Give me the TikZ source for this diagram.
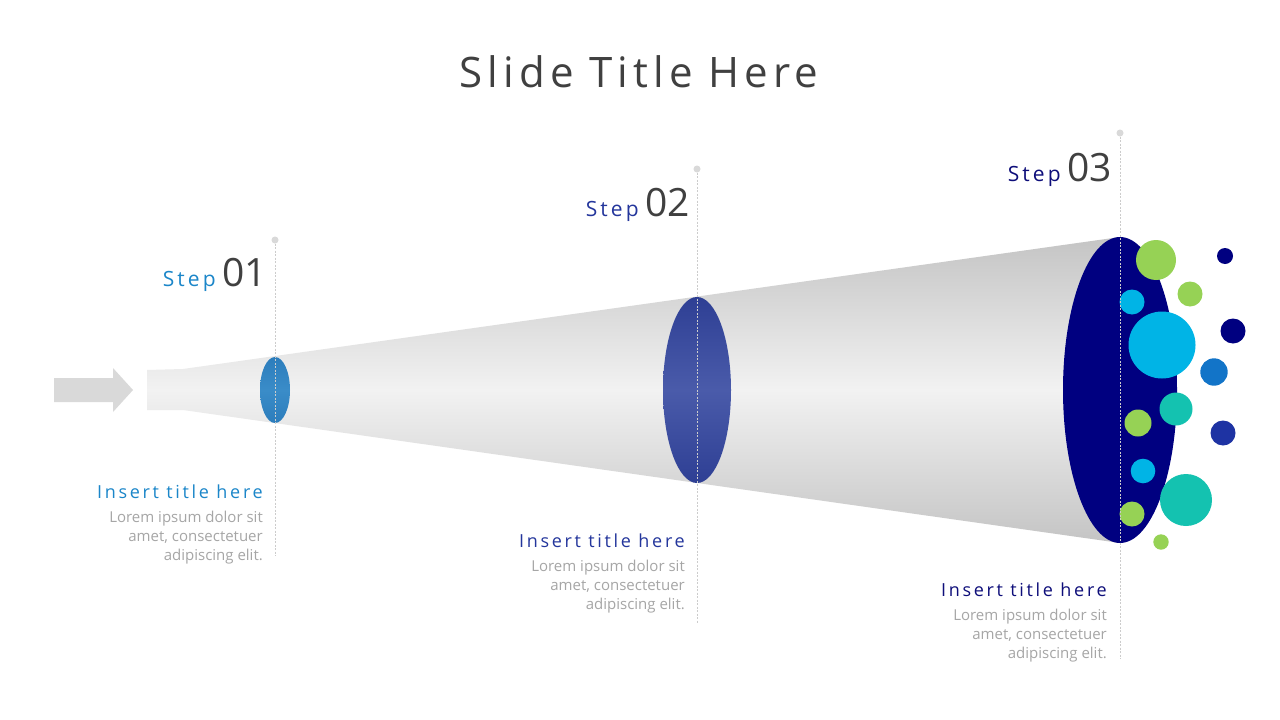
\documentclass[tikz,border=0pt]{standalone}
\usepackage{fontspec}
\setmainfont{Open Sans}
\newfontfamily\spacedfont{Open Sans}[LetterSpace=15]
\newfontfamily\titlefont{Open Sans}[LetterSpace=12]
\usetikzlibrary{positioning,calc}

\definecolor{titlegray}{HTML}{404040}
\definecolor{bodygray}{HTML}{A6A6A6}
\definecolor{stepone}{HTML}{1B86C9}
\definecolor{steptwo}{HTML}{24369C}
\definecolor{stepthree}{HTML}{0E0E7A}
\definecolor{arrowgray}{HTML}{D9D9D9}
\definecolor{funneldark}{HTML}{C4C4C4}
\definecolor{funnellight}{HTML}{F2F2F2}
\definecolor{lensone}{HTML}{3A8CC8}
\definecolor{lensoneedge}{HTML}{2C7DBC}
\definecolor{lenstwo}{HTML}{4A5BAA}
\definecolor{lenstwoedge}{HTML}{2E3F94}
\definecolor{lensthree}{HTML}{000080}
\definecolor{bgreen}{HTML}{96D255}
\definecolor{bcyan}{HTML}{00B4E6}
\definecolor{bteal}{HTML}{14C2B0}
\definecolor{bnavy}{HTML}{000080}
\definecolor{bblue}{HTML}{1274C8}
\definecolor{broyal}{HTML}{1E33A3}

\begin{document}
\begin{tikzpicture}[x=1pt, y=-1pt,
    dot/.style={circle, fill=gray!30, minimum size=7pt, inner sep=0pt},
    guide/.style={gray!40, line width=0.6pt, dash pattern=on 2pt off 1.5pt},
    num/.style={font=\fontsize{39}{39}\selectfont, text=titlegray, inner sep=0pt},
    steplbl/.style={font=\spacedfont\fontsize{21}{21}\selectfont, inner sep=0pt},
    ttl/.style={font=\spacedfont\fontsize{18}{18}\selectfont, inner sep=0pt},
    body/.style={font=\fontsize{15}{19}\selectfont, text=bodygray, align=right, inner sep=0pt}
]
\useasboundingbox (0,0) rectangle (1280,720);
\fill[white] (0,0) rectangle (1280,720);

% Title
\node[font=\titlefont\fontsize{42}{42}\selectfont, text=titlegray, anchor=base] (title) at (639,87) {Slide Title Here};

% Arrow and funnel
\fill[arrowgray] (54,378) -- (113,378) -- (113,368) -- (133,390) -- (113,412) -- (113,402) -- (54,402) -- cycle;
\shade[top color=funneldark, bottom color=funneldark, middle color=funnellight]
    (147,370) -- (183,369) -- (1120,237) -- (1120,543) -- (183,410) -- (147,410) -- cycle;

% Lenses
\shade[top color=lensoneedge, bottom color=lensoneedge, middle color=lensone] (275,390) ellipse [x radius=15, y radius=33];
\shade[top color=lenstwoedge, bottom color=lenstwoedge, middle color=lenstwo] (697,390) ellipse [x radius=34, y radius=93];
\fill[lensthree] (1120,390) ellipse [x radius=57, y radius=153];

% Bubbles
\foreach \cx/\cy/\r/\col in {1156/260/20/bgreen, 1225/256/8/bnavy, 1190/294/12.5/bgreen,
    1132/302/12.5/bcyan, 1162/345/33.5/bcyan, 1233/331/12.5/bnavy, 1214/372/13.7/bblue,
    1176/409/16.5/bteal, 1138/423/13.5/bgreen, 1223/433/12.5/broyal, 1143/471/12.3/bcyan,
    1186/500/26/bteal, 1132/514/12.5/bgreen, 1161/542/7.7/bgreen}
    \fill[\col] (\cx,\cy) circle (\r);

% Guides
\node[dot] (top1) at (275,240) {};
\coordinate (end1) at (275,556);
\draw[guide] (top1) -- (end1);
\node[dot] (top2) at (697,169) {};
\coordinate (end2) at (697,623);
\draw[guide] (top2) -- (end2);
\node[dot] (top3) at (1120,133) {};
\coordinate (end3) at (1120,659);
\draw[guide] (top3) -- (end3);

% Step labels
\node[num, anchor=base east] (num1) at (267,286) {01};
\node[steplbl, text=stepone, anchor=base east] (step1) at ([xshift=-6pt]num1.base west) {Step};
\node[num, anchor=base east] (num2) at (690,216) {02};
\node[steplbl, text=steptwo, anchor=base east] (step2) at ([xshift=-6pt]num2.base west) {Step};
\node[num, anchor=base east] (num3) at (1112,181) {03};
\node[steplbl, text=stepthree, anchor=base east] (step3) at ([xshift=-6pt]num3.base west) {Step};

% Text blocks
\node[ttl, text=stepone, anchor=base east] (ttl1) at (263,498) {Insert title here};
\node[body, below left=13pt and 0pt of ttl1.south east] (body1) {Lorem ipsum dolor sit\\amet, consectetuer\\adipiscing elit.};
\node[ttl, text=steptwo, anchor=base east] (ttl2) at (685,547) {Insert title here};
\node[body, below left=13pt and 0pt of ttl2.south east] (body2) {Lorem ipsum dolor sit\\amet, consectetuer\\adipiscing elit.};
\node[ttl, text=stepthree, anchor=base east] (ttl3) at (1107,596) {Insert title here};
\node[body, below left=13pt and 0pt of ttl3.south east] (body3) {Lorem ipsum dolor sit\\amet, consectetuer\\adipiscing elit.};

\end{tikzpicture}
\end{document}
